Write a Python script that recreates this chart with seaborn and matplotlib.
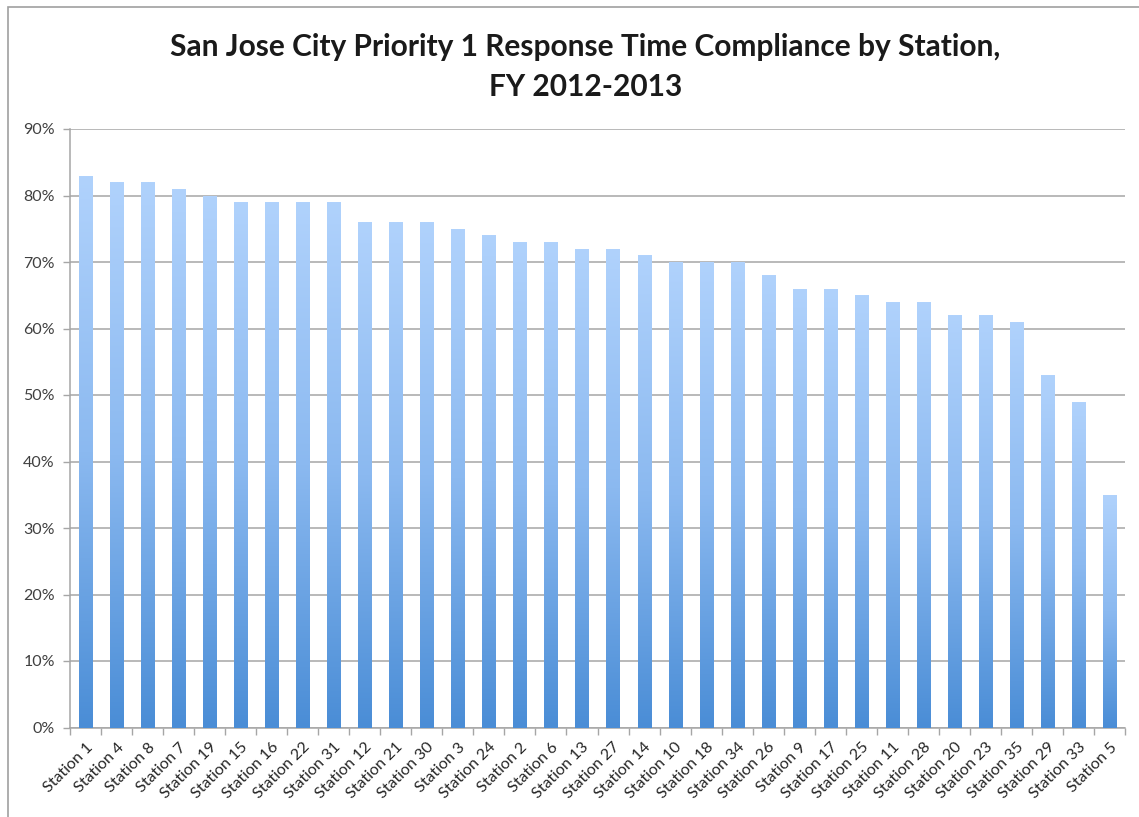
import numpy as np
import pandas as pd
import matplotlib
matplotlib.use("Agg")
import matplotlib.pyplot as plt
from matplotlib.colors import LinearSegmentedColormap
from matplotlib.patches import Rectangle
from matplotlib.ticker import FixedLocator, PercentFormatter
import seaborn as sns

stations = ["Station 1", "Station 4", "Station 8", "Station 7", "Station 19", "Station 15",
            "Station 16", "Station 22", "Station 31", "Station 12", "Station 21", "Station 30",
            "Station 3", "Station 24", "Station 2", "Station 6", "Station 13", "Station 27",
            "Station 14", "Station 10", "Station 18", "Station 34", "Station 26", "Station 9",
            "Station 17", "Station 25", "Station 11", "Station 28", "Station 20", "Station 23",
            "Station 35", "Station 29", "Station 33", "Station 5"]
compliance = [83, 82, 82, 81, 80, 79, 79, 79, 79, 76, 76, 76, 75, 74, 73, 73, 72, 72,
              71, 70, 70, 70, 68, 66, 66, 65, 64, 64, 62, 62, 61, 53, 49, 35]
y_ticks = [0, 10, 20, 30, 40, 50, 60, 70, 80, 90]

df = pd.DataFrame({"station": stations, "compliance": compliance})

sns.set_theme(style="white")
plt.rcParams["font.family"] = ["Lato", "DejaVu Sans"]

W, H = 1139, 817
fig = plt.figure(figsize=(W / 100, H / 100), dpi=100)
ax = fig.add_axes([70 / W, 1 - 727.5 / H, (1125 - 70) / W, (727.5 - 129) / H])

sns.barplot(data=df, x="station", y="compliance", ax=ax, width=0.42,
            color="#8ab8ef", saturation=1)

# vertical gradient fill on each bar: light at the top, darker at the base
cmap = LinearSegmentedColormap.from_list("bar", ["#4a8dd6", "#8bb9f0", "#b0d2fc"])
grad = np.linspace(0, 1, 256).reshape(-1, 1)
for p in ax.patches:
    x0, y0 = p.get_x(), p.get_y()
    w, h = p.get_width(), p.get_height()
    ax.imshow(grad, cmap=cmap, origin="lower", aspect="auto",
              extent=[x0, x0 + w, y0, y0 + h], zorder=3, interpolation="bilinear")
    p.set_visible(False)

n = len(stations)
ax.set_xlim(-0.5, n - 0.5)
ax.set_ylim(0, 90)
ax.yaxis.set_major_locator(FixedLocator(y_ticks))
ax.yaxis.set_major_formatter(PercentFormatter(decimals=0))
ax.grid(axis="y", color="#a6a6a6", linewidth=1.1, zorder=0)
ax.set_axisbelow(True)

ax.set_xlabel("")
ax.set_ylabel("")
for s in ["top", "right"]:
    ax.spines[s].set_visible(False)
for s in ["left", "bottom"]:
    ax.spines[s].set_color("#a6a6a6")
    ax.spines[s].set_linewidth(1.1)

ax.set_xticks(range(n))
ax.set_xticklabels(stations, rotation=45, ha="right", rotation_mode="anchor",
                   fontsize=11.5, color="#262626")
ax.xaxis.set_minor_locator(FixedLocator(np.arange(-0.5, n, 1.0)))
ax.tick_params(axis="x", which="major", length=0, pad=9)
ax.tick_params(axis="x", which="minor", length=5, color="#a6a6a6", width=1, direction="out",
               bottom=True)
ax.tick_params(axis="y", which="major", length=5, color="#a6a6a6", width=1, direction="out",
               left=True, labelsize=11.5, labelcolor="#404040", pad=6)

fig.text(0.514, 1 - 47 / H, "San Jose City Priority 1 Response Time Compliance by Station,",
         ha="center", va="center", fontsize=21.5, fontweight="bold", color="#1a1a1a")
fig.text(0.514, 1 - 87 / H, "FY 2012-2013",
         ha="center", va="center", fontsize=21.5, fontweight="bold", color="#1a1a1a")

fig.patches.append(Rectangle((8 / W, -0.1), 1.2, 1 - 7 / H + 0.1, transform=fig.transFigure,
                             fill=False, edgecolor="#a0a0a0", linewidth=1.2))

fig.savefig("out.png", dpi=100)
